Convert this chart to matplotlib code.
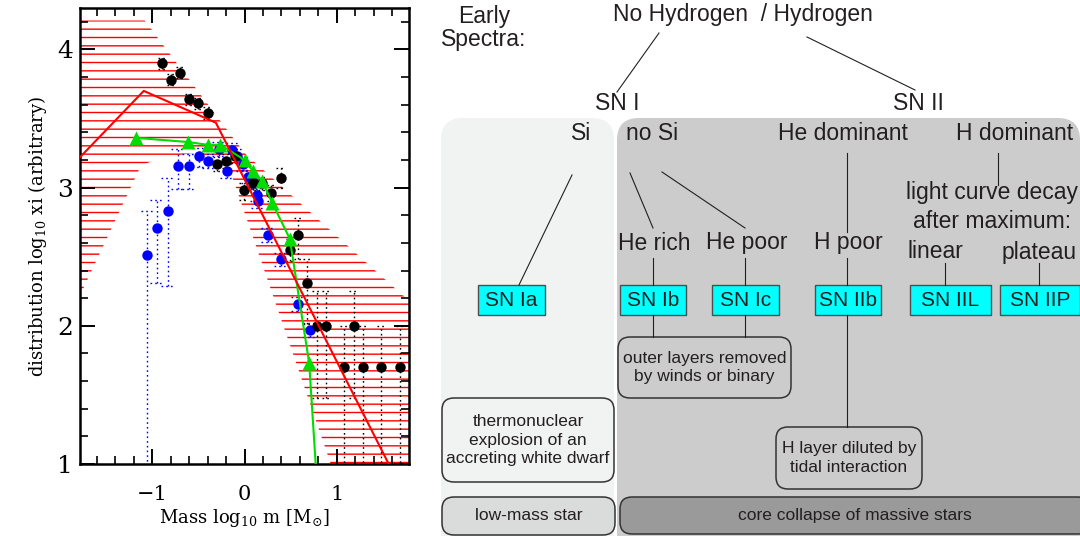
import numpy as np
import matplotlib.pyplot as plt
from matplotlib.patches import FancyBboxPatch, Rectangle
from matplotlib.ticker import MultipleLocator

plt.rcParams['mathtext.fontset'] = 'dejavuserif'

# ---- IMF panel data ----
# uncertainty band of the IMF slope (upper and lower edge)
band_up_x = [-1.78, -1.08, 0.0, 1.78]
band_up_y = [4.21, 4.21, 3.25, 2.18]
band_lo_x = [-1.78, -1.12, -0.89, -0.55, -0.20, 1.78]
band_lo_y = [2.22, 3.16, 3.22, 3.25, 3.21, -0.65]

# broken power law
imf_x = [-1.78, -1.09, -0.31, 1.78]
imf_y = [3.22, 3.70, 3.47, 0.71]

# black points with asymmetric errors
black_x = [-0.89, -0.79, -0.70, -0.60, -0.50, -0.40, -0.30, -0.20, -0.10, -0.01,
           0.09, 0.19, 0.29, 0.39, 0.49, 0.58, 0.68, 0.78, 0.88, 1.18,
           1.08, 1.28, 1.48, 1.68]
black_y = [3.90, 3.78, 3.83, 3.64, 3.61, 3.54, 3.17, 3.19, 3.23, 2.98,
           3.03, 3.03, 2.96, 3.07, 2.55, 2.66, 2.31, 2.00, 2.00, 2.00,
           1.70, 1.70, 1.70, 1.70]
black_lo = [0.04, 0.04, 0.04, 0.04, 0.04, 0.04, 0.05, 0.05, 0.05, 0.07,
            0.05, 0.05, 0.06, 0.07, 0.08, 0.18, 0.30, 0.52, 0.52, 0.52,
            1.00, 1.00, 1.00, 1.00]
black_hi = [0.04, 0.04, 0.04, 0.04, 0.04, 0.04, 0.05, 0.05, 0.05, 0.05,
            0.05, 0.05, 0.06, 0.07, 0.08, 0.12, 0.17, 0.25, 0.25, 0.25,
            0.30, 0.30, 0.30, 0.30]

# blue points
blue_x = [-1.05, -0.95, -0.83, -0.72, -0.60, -0.49, -0.39, -0.28, -0.19, -0.13,
          -0.08, -0.02, 0.04, 0.09, 0.13, 0.15, 0.25, 0.39, 0.58, 0.71]
blue_y = [2.51, 2.71, 2.83, 3.16, 3.16, 3.23, 3.19, 3.28, 3.12, 3.27,
          3.23, 3.17, 3.08, 3.04, 2.95, 2.90, 2.66, 2.48, 2.16, 1.97]
blue_lo = [2.00, 0.40, 0.54, 0.17, 0.17, 0.08, 0.05, 0.05, 0.05, 0.05,
           0.05, 0.05, 0.05, 0.05, 0.05, 0.05, 0.05, 0.05, 0.05, 0.05]
blue_hi = [0.32, 0.20, 0.24, 0.12, 0.08, 0.06, 0.05, 0.05, 0.05, 0.05,
           0.05, 0.05, 0.05, 0.05, 0.05, 0.05, 0.05, 0.05, 0.05, 0.05]

# green triangles (last one falls below the plotted range)
green_x = [-1.17, -0.61, -0.40, -0.26, 0.00, 0.09, 0.19, 0.30, 0.49, 0.70, 0.90]
green_y = [3.36, 3.33, 3.31, 3.31, 3.20, 3.12, 3.05, 2.89, 2.63, 1.73, -0.35]

# ---- classification diagram (pixel layout) ----
ink = '#231f20'
panel_light = '#f1f2f2'
panel_dark = '#cccccc'

labels = [
    ('Early\nSpectra:', 484, 28),
    ('No Hydrogen  / Hydrogen', 743, 15),
    ('SN I', 617, 103), ('SN II', 918, 103),
    ('Si', 581, 133), ('no Si', 652, 133),
    ('He dominant', 843, 133), ('H dominant', 1015, 133),
    ('light curve decay', 992, 193), ('after maximum:', 992, 222),
    ('He rich', 654, 243), ('He poor', 747, 243), ('H poor', 848, 243),
    ('linear', 935, 252), ('plateau', 1039, 252),
]
sn_types = ['SN Ia', 'SN Ib', 'SN Ic', 'SN IIb', 'SN IIL', 'SN IIP']
sn_left = [478, 620, 712, 815, 910, 1000]
sn_right = [545, 686, 779, 881, 991, 1080]
connectors = [
    ((659, 33), (617, 92)), ((807, 37), (915, 90)),
    ((572, 175), (519, 285)), ((630, 173), (653, 228)), ((662, 172), (745, 228)),
    ((847, 153), (847, 232)), ((998, 153), (998, 185)),
    ((653, 258), (653, 285)), ((745, 258), (745, 285)), ((847, 258), (847, 285)),
    ((945, 263), (945, 285)), ((1039, 263), (1039, 285)),
    ((653, 315), (653, 337)), ((745, 315), (745, 337)), ((847, 315), (847, 427)),
]
notes = [
    ('outer layers removed\nby winds or binary', 618, 337, 791, 398, panel_dark),
    ('H layer diluted by\ntidal interaction', 776, 427, 922, 489, panel_dark),
    ('thermonuclear\nexplosion of an\naccreting white dwarf', 442, 398, 614, 482, panel_light),
    ('low-mass star', 442, 497, 615, 535, '#dadbdb'),
    ('core collapse of massive stars', 620, 497, 1090, 534, '#9a9a9a'),
]

fig = plt.figure(figsize=(10.8, 5.36), dpi=100)

# diagram drawn in pixel coordinates on a full-figure axes
dg = fig.add_axes([0, 0, 1, 1])
dg.set_xlim(0, 1080)
dg.set_ylim(536, 0)
dg.axis('off')

dg.add_patch(FancyBboxPatch((441, 118), 173, 460, boxstyle='round,pad=0,rounding_size=22',
                            fc=panel_light, ec='none'))
dg.add_patch(FancyBboxPatch((617, 118), 463, 460, boxstyle='round,pad=0,rounding_size=22',
                            fc=panel_dark, ec='none'))

for (x0, y0), (x1, y1) in connectors:
    dg.plot([x0, x1], [y0, y1], color=ink, lw=0.8)

for txt, x, y in labels:
    dg.text(x, y, txt, ha='center', va='center', fontsize=16.5, color=ink,
            family='Liberation Sans', linespacing=1.05)

for name, l, r in zip(sn_types, sn_left, sn_right):
    dg.add_patch(Rectangle((l, 285), r - l, 30, fc='#00ffff', ec='#4d4d4d', lw=1.0))
    dg.text((l + r) / 2, 300.5, name, ha='center', va='center', fontsize=15,
            color=ink, family='Liberation Sans')

for txt, l, t, r, b, fc in notes:
    dg.add_patch(FancyBboxPatch((l, t), r - l, b - t, boxstyle='round,pad=0,rounding_size=12',
                                fc=fc, ec='#333333', lw=1.1))
    dg.text((l + r) / 2, (t + b) / 2, txt, ha='center', va='center', fontsize=12.5,
            color=ink, family='Liberation Sans', linespacing=1.25)

# ---- IMF plot ----
ax = fig.add_axes([80 / 1080, 72 / 536, 329 / 1080, 456 / 536])

band_x = np.concatenate([band_up_x, band_lo_x[::-1]])
band_y = np.concatenate([band_up_y, band_lo_y[::-1]])
ax.fill(band_x, band_y, facecolor='none', edgecolor='red', hatch='--', linewidth=0, zorder=1)


def dotted_errorbars(x, y, lo, hi, color, cap):
    x = np.asarray(x)
    y = np.asarray(y)
    ax.vlines(x, y - np.asarray(lo), y + np.asarray(hi), colors=color,
              linestyles=(0, (1.2, 2.2)), lw=1.0, zorder=2)
    ends = np.concatenate([y - np.asarray(lo), y + np.asarray(hi)])
    xs = np.concatenate([x, x])
    ax.hlines(ends, xs - cap, xs + cap, colors=color,
              linestyles=(0, (1.2, 2.2)), lw=1.0, zorder=2)


dotted_errorbars(blue_x, blue_y, blue_lo, blue_hi, 'blue', 0.075)
dotted_errorbars(black_x, black_y, black_lo, black_hi, 'black', 0.045)

ax.plot(blue_x, blue_y, 'o', color='#0000ff', ms=7.5, mec='none', zorder=3)
ax.plot(black_x, black_y, 'o', color='black', ms=7.5, mec='none', zorder=4)
ax.plot(green_x, green_y, '-', color='#00dd00', lw=1.5, zorder=5)
ax.plot(green_x, green_y, '^', color='#00dd00', ms=10, mec='none', zorder=5)
ax.plot(imf_x, imf_y, '-', color='red', lw=1.5, zorder=6)

ax.set_xlim(-1.78, 1.78)
ax.set_ylim(1, 4.3)
ax.set_xticks([-1, 0, 1])
ax.set_xticklabels(['\u22121', '0', '1'], family='DejaVu Serif', fontsize=15)
ax.set_yticks([1, 2, 3, 4])
ax.set_yticklabels(['1', '2', '3', '4'], family='DejaVu Serif', fontsize=18)
ax.xaxis.set_minor_locator(MultipleLocator(0.2))
ax.yaxis.set_minor_locator(MultipleLocator(0.2))
ax.tick_params(which='both', direction='in', top=True, right=True, color='black')
ax.tick_params(which='major', length=11, width=1.4)
ax.tick_params(which='minor', length=5.5, width=1.2)
ax.tick_params(axis='x', which='major', pad=15)
ax.tick_params(axis='y', which='major', pad=5)
for sp in ax.spines.values():
    sp.set_linewidth(1.8)

ax.set_xlabel(r'Mass log$_{10}$ m [M$_{\odot}$]', family='DejaVu Serif', fontsize=13, labelpad=2)
ax.set_ylabel('distribution log$_{10}$ xi (arbitrary)', family='DejaVu Serif', fontsize=13, labelpad=6)

fig.savefig('out.png', dpi=100)
